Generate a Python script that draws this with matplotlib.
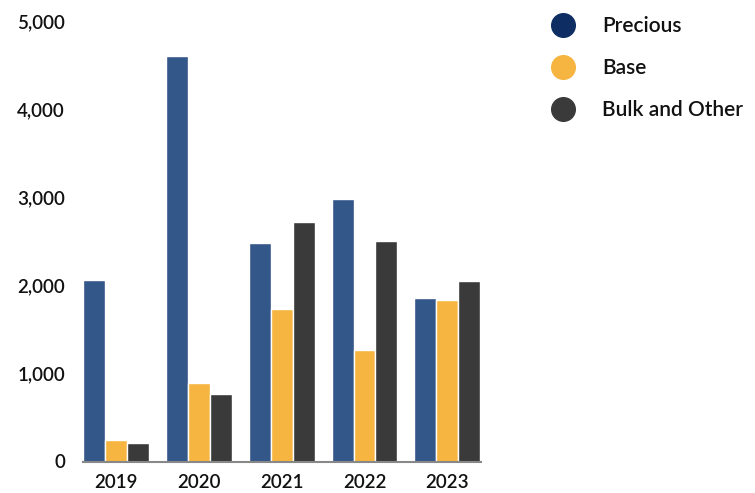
import matplotlib
matplotlib.use("Agg")
import matplotlib.pyplot as plt
from matplotlib.lines import Line2D
import numpy as np

years = ["2019", "2020", "2021", "2022", "2023"]
series_names = ["Precious", "Base", "Bulk and Other"]
precious = [2060, 4600, 2480, 2985, 1860]
base = [245, 890, 1735, 1265, 1835]
bulk = [210, 765, 2720, 2505, 2050]
bar_colors = ["#34578a", "#f5b540", "#3a3a3a"]
legend_colors = ["#0e2d63", "#f5b540", "#3a3a3a"]
yticks = [0, 1000, 2000, 3000, 4000, 5000]

plt.rcParams['font.family'] = ['Lato', 'DejaVu Sans']

fig = plt.figure(figsize=(7.55, 4.93), dpi=100)
ax = fig.add_axes([83/755, (493-461.5)/493, (481-83)/755, (461.5-21)/493])

x = np.arange(len(years))
w = 0.265
for i, vals in enumerate([precious, base, bulk]):
    ax.bar(x + (i - 1) * w, vals, width=w, color=bar_colors[i],
           edgecolor="white", linewidth=1, zorder=2)

ax.set_xlim(-0.395, 4.405)
ax.set_ylim(0, 5000)
ax.set_yticks(yticks)
ax.set_yticklabels([f"{v:,}" for v in yticks], fontweight="semibold")
ax.set_xticks(x)
ax.set_xticklabels(years, fontweight="semibold")
for s in ["top", "right", "left"]:
    ax.spines[s].set_visible(False)
ax.spines["bottom"].set_color("#888888")
ax.spines["bottom"].set_linewidth(1.5)
ax.spines["bottom"].set_zorder(3)
ax.tick_params(axis="both", length=0, labelsize=13.5, colors="#111111")
ax.tick_params(axis="y", pad=13)
ax.tick_params(axis="x", pad=9)

handles = [Line2D([], [], linestyle="none", marker="o", markersize=17,
                  markerfacecolor=c, markeredgecolor=c) for c in legend_colors]
leg = fig.legend(handles, series_names, loc="upper left",
           bbox_to_anchor=(542/755, 1 - 8/493), frameon=False,
           prop={"size": 15, "weight": "semibold"}, labelspacing=1.05, handletextpad=1.3,
           handlelength=1.2, borderaxespad=0)
for t in leg.get_texts():
    t.set_color("#111111")

fig.savefig("out.png", dpi=100)
